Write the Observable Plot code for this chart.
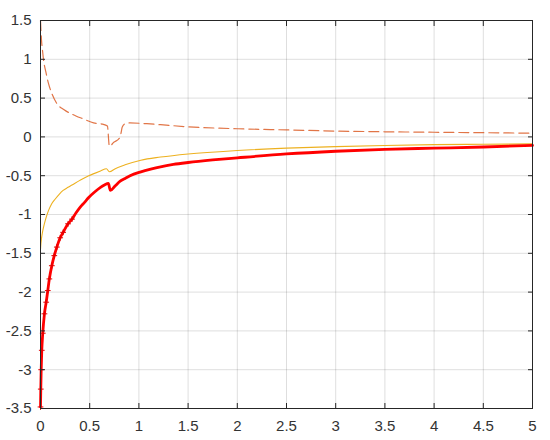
<!DOCTYPE html>
<html>
<head>
<meta charset="utf-8">
<script src="https://cdn.jsdelivr.net/npm/d3@7"></script>
<script src="https://cdn.jsdelivr.net/npm/@observablehq/plot@0.6"></script>
<style>
  html, body { margin: 0; padding: 0; background: #fff; }
  #chart svg text { font-size: 15px; font-family: 'Liberation Sans', Arial, sans-serif; }
</style>
</head>
<body>
<div id="chart"></div>
<script>
const xTicks = [0, 0.5, 1, 1.5, 2, 2.5, 3, 3.5, 4, 4.5, 5];
const yTicks = [-3.5, -3, -2.5, -2, -1.5, -1, -0.5, 0, 0.5, 1, 1.5];

// dashed (orange) series
const dashX = [0, 0.01, 0.02, 0.03, 0.054, 0.081, 0.115, 0.166, 0.24, 0.36, 0.44, 0.54, 0.63, 0.68, 0.70, 0.745, 0.80, 0.82, 0.83, 0.86, 0.91, 1.08, 1.22, 1.5, 2.0, 2.5, 3.0, 3.5, 4.0, 4.5, 5.0];
const dashY = [1.5, 1.25, 1.12, 1.0, 0.84, 0.69, 0.56, 0.43, 0.35, 0.27, 0.23, 0.18, 0.165, 0.14, -0.12, -0.07, -0.02, 0.06, 0.125, 0.17, 0.18, 0.17, 0.157, 0.13, 0.105, 0.09, 0.075, 0.066, 0.06, 0.054, 0.048];

// yellow series
const yelX = [0, 0.004, 0.01, 0.02, 0.03, 0.05, 0.081, 0.11, 0.15, 0.19, 0.23, 0.28, 0.32, 0.40, 0.49, 0.55, 0.61, 0.67, 0.70, 0.76, 0.86, 1.02, 1.22, 1.5, 2.0, 2.5, 3.0, 3.5, 4.0, 4.5, 5.0];
const yelY = [-1.45, -1.38, -1.31, -1.23, -1.17, -1.07, -0.95, -0.87, -0.80, -0.74, -0.69, -0.65, -0.62, -0.56, -0.50, -0.47, -0.44, -0.41, -0.45, -0.41, -0.36, -0.30, -0.26, -0.22, -0.175, -0.145, -0.125, -0.11, -0.10, -0.095, -0.09];

// red series (with markers)
const redX = [0, 0.003, 0.007, 0.013, 0.023, 0.04, 0.058, 0.074, 0.09, 0.115, 0.14, 0.166, 0.2, 0.23, 0.28, 0.32, 0.36, 0.40, 0.45, 0.49, 0.55, 0.61, 0.65, 0.69, 0.71, 0.76, 0.81, 0.86, 0.91, 1.02, 1.12, 1.22, 1.35, 1.5, 1.75, 2.0, 2.5, 3.0, 3.5, 4.0, 4.5, 5.0];
const redY = [-3.48, -3.25, -3.0, -2.75, -2.53, -2.28, -2.13, -1.98, -1.83, -1.66, -1.53, -1.42, -1.30, -1.23, -1.12, -1.06, -0.98, -0.91, -0.84, -0.78, -0.71, -0.65, -0.62, -0.60, -0.69, -0.63, -0.57, -0.535, -0.50, -0.45, -0.415, -0.385, -0.355, -0.33, -0.297, -0.27, -0.22, -0.185, -0.16, -0.145, -0.13, -0.11];

const zip = (xs, ys) => xs.map((x, i) => ({x, y: ys[i]}));
const dash = zip(dashX, dashY);
const yel = zip(yelX, yelY);
const red = zip(redX, redY);

const fmt = d => String(d);

const chart = Plot.plot({
  width: 550,
  height: 440,
  marginLeft: 40,
  marginRight: 18,
  marginTop: 20,
  marginBottom: 32,
  x: {domain: [0, 5], label: null},
  y: {domain: [-3.5, 1.5], label: null},
  style: {fontFamily: "'Liberation Sans', Arial, sans-serif", fontSize: "15px", color: "#333", background: "#fff"},
  marks: [
    Plot.gridX(xTicks, {stroke: "#000", strokeOpacity: 0.13}),
    Plot.gridY(yTicks, {stroke: "#000", strokeOpacity: 0.13}),
    Plot.line(dash, {x: "x", y: "y", stroke: "#D95319", strokeWidth: 1.2, strokeOpacity: 0.8, strokeDasharray: "10,5", curve: "monotone-x"}),
    Plot.line(yel, {x: "x", y: "y", stroke: "#EDB120", strokeWidth: 1.1, curve: "monotone-x"}),
    Plot.line(red, {x: "x", y: "y", stroke: "#FF0000", strokeWidth: 2.8, curve: "monotone-x"}),
    Plot.dot(red.filter(d => d.x < 0.35), {x: "x", y: "y", symbol: "plus", r: 2, stroke: "#E00000", strokeWidth: 1}),
    Plot.frame({stroke: "#262626", strokeWidth: 1}),
    Plot.axisX(xTicks, {anchor: "bottom", tickSize: 0, tickPadding: 12, tickFormat: fmt, fill: "#333"}),
    Plot.axisY(yTicks, {anchor: "left", tickSize: 0, tickPadding: 9, tickFormat: fmt, fill: "#333"}),
    Plot.axisX(xTicks, {anchor: "bottom", tickSize: 5, dy: -5, text: null, stroke: "#262626"}),
    Plot.axisX(xTicks, {anchor: "top", tickSize: 5, dy: 5, text: null, stroke: "#262626"}),
    Plot.axisY(yTicks, {anchor: "left", tickSize: 5, dx: 5, text: null, stroke: "#262626"}),
    Plot.axisY(yTicks, {anchor: "right", tickSize: 5, dx: -5, text: null, stroke: "#262626"})
  ]
});
document.getElementById("chart").appendChild(chart);
</script>
</body>
</html>
